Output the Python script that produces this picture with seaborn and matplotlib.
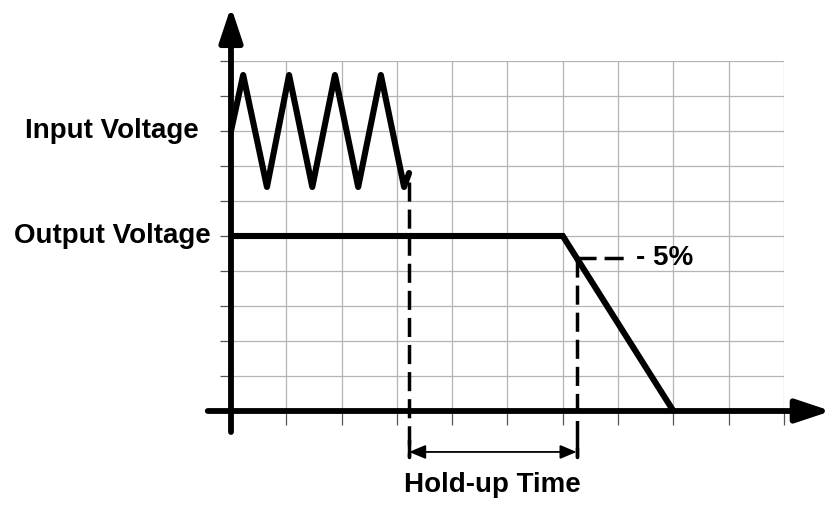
import matplotlib
matplotlib.use("Agg")
import matplotlib.pyplot as plt
import seaborn as sns

# input voltage waveform vertices (grid units)
input_t = [0.0, 0.22, 0.65, 1.05, 1.47, 1.88, 2.30, 2.71, 3.13, 3.22]
input_v = [8.0, 9.6, 6.4, 9.6, 6.4, 9.6, 6.4, 9.6, 6.4, 6.8]

# output voltage: flat, then ramps down to zero
output_t = [0.0, 6.0, 8.0]
output_v = [5.0, 5.0, 0.0]

holdup_start = 3.22   # input drops out
holdup_end = 6.25     # output reaches -5%
drop_level = 4.375

labels = {"input": "Input Voltage", "output": "Output Voltage",
          "holdup": "Hold-up Time", "drop": "- 5%"}

sns.set_theme(style="whitegrid")
plt.rcParams["font.family"] = ["Liberation Sans", "DejaVu Sans"]
plt.rcParams["text.color"] = "black"

fig = plt.figure(figsize=(8.29, 5.07), dpi=100)
ax = fig.add_axes([231 / 829, 96 / 507, 553 / 829, 350 / 507])
ax.set_xlim(0, 10)
ax.set_ylim(0, 10)
ax.set_xticks(range(0, 11))
ax.set_yticks(range(0, 11))
ax.set_xticklabels([])
ax.set_yticklabels([])
ax.grid(True, color="#b5b5b5", linewidth=0.9)
for s in ax.spines.values():
    s.set_visible(False)
ax.tick_params(axis="x", direction="out", length=10, width=0.9, color="#555555", bottom=True)
ax.tick_params(axis="y", direction="out", length=8, width=0.9, color="#555555", left=True)
ax.set_facecolor("white")

# axes with arrowheads
axis_arrow = dict(arrowstyle="-|>,head_length=2.1,head_width=0.7", mutation_scale=10,
                  lw=4.2, color="black", shrinkA=0, shrinkB=0)
ax.annotate("", xy=(0, 11.55), xytext=(0, -0.6), arrowprops=axis_arrow, annotation_clip=False)
ax.annotate("", xy=(10.85, 0), xytext=(-0.42, 0), arrowprops=axis_arrow, annotation_clip=False)

# waveforms
sns.lineplot(x=input_t, y=input_v, sort=False, estimator=None, ax=ax, color="black",
             linewidth=4.4, solid_joinstyle="round", solid_capstyle="round", clip_on=False)
sns.lineplot(x=output_t, y=output_v, sort=False, estimator=None, ax=ax, color="black",
             linewidth=4.4, solid_joinstyle="miter", clip_on=False)

# dashed markers
dash = (0, (5.5, 2.3))
ax.plot([holdup_start, holdup_start], [6.55, -1.3], color="black", lw=2.5, linestyle=dash, clip_on=False)
ax.plot([holdup_end, holdup_end], [drop_level, -1.3], color="black", lw=2.5, linestyle=dash, clip_on=False)
ax.plot([holdup_end, 7.2], [drop_level, drop_level], color="black", lw=2.5, linestyle=dash, clip_on=False)
ax.text(7.33, drop_level, labels["drop"], fontsize=20, fontweight="bold", ha="left", va="center")

# hold-up time arrow
for xv in (holdup_start, holdup_end):
    ax.plot([xv, xv], [-0.83, -1.32], color="black", lw=2.5, clip_on=False)
ax.annotate("", xy=(holdup_end, -1.17), xytext=(holdup_start, -1.17), annotation_clip=False,
            arrowprops=dict(arrowstyle="<|-|>,head_length=1.0,head_width=0.42", mutation_scale=10,
                            lw=1.3, color="black", shrinkA=0, shrinkB=0))
ax.text((holdup_start + holdup_end) / 2, -2.12, labels["holdup"], fontsize=20,
        fontweight="bold", ha="center", va="center")

# side labels
ax.text(-0.58, 8.0, labels["input"], fontsize=20, fontweight="bold", ha="right", va="center")
ax.text(-0.36, 5.0, labels["output"], fontsize=20, fontweight="bold", ha="right", va="center")

fig.savefig("out.png", dpi=100, facecolor="white")
